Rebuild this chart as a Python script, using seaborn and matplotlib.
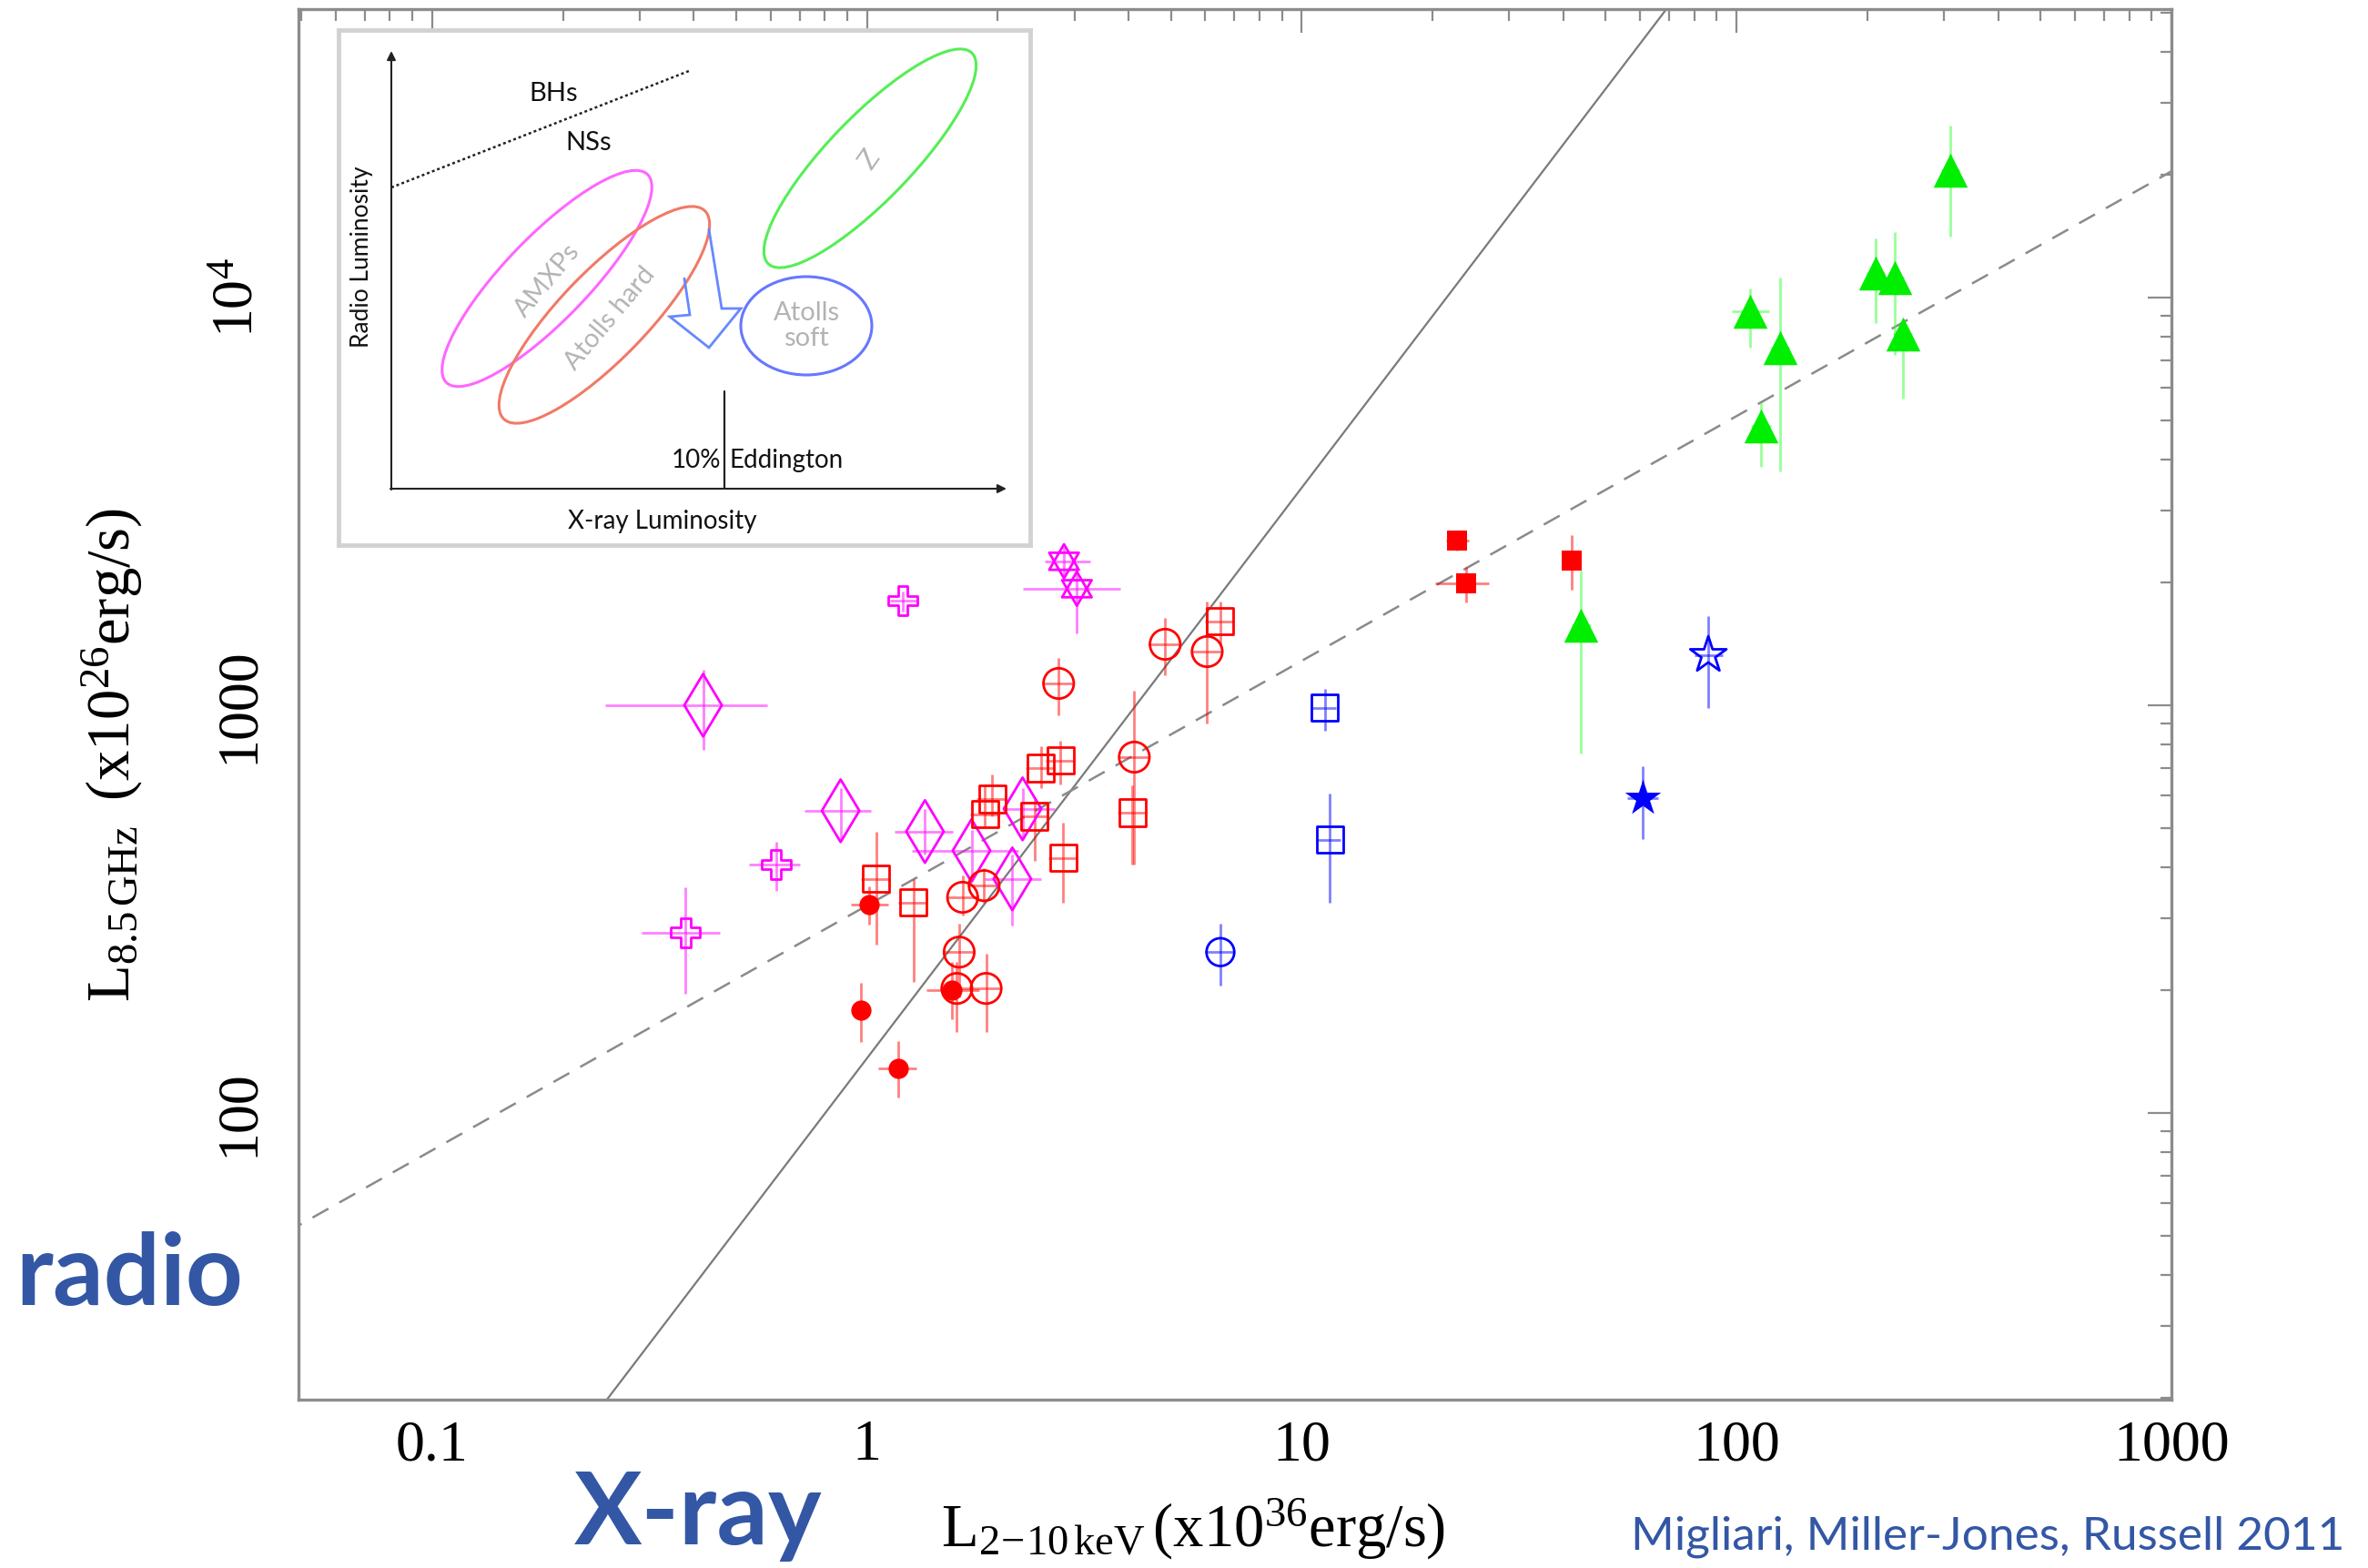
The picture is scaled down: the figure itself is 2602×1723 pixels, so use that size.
import numpy as np
import pandas as pd
import matplotlib
matplotlib.use("Agg")
import matplotlib.pyplot as plt
from matplotlib.path import Path
from matplotlib.patches import Ellipse
from matplotlib.ticker import LogLocator, FixedLocator, FixedFormatter, NullFormatter
import seaborn as sns

# ---------------------------------------------------------------------------
# Data: 2-10 keV X-ray luminosity (1e36 erg/s) and 8.5 GHz radio luminosity
# (1e26 erg/s), with lower/upper error bounds.
# ---------------------------------------------------------------------------

# AMXPs (magenta) - thin diamonds
amxp_dia_x = [0.42, 0.87, 1.36, 1.74, 2.28, 2.16]
amxp_dia_xlo = [0.25, 0.72, 1.16, 1.27, 2.07, 1.87]
amxp_dia_xhi = [0.59, 1.02, 1.58, 2.23, 2.71, 2.51]
amxp_dia_y = [1000, 551, 490, 440, 557, 375]
amxp_dia_ylo = [777, 465, 431, 382, 474, 288]
amxp_dia_yhi = [1222, 627, 556, 495, 627, 431]

# AMXPs (magenta) - crosses
amxp_crs_x = [1.21, 0.618, 0.383]
amxp_crs_xlo = [1.13, 0.535, 0.304]
amxp_crs_xhi = [1.30, 0.70, 0.46]
amxp_crs_y = [1807, 407, 277]
amxp_crs_ylo = [1700, 350, 196]
amxp_crs_yhi = [1900, 462, 358]

# AMXPs (magenta) - hexagrams
amxp_hex_x = [2.84, 3.04]
amxp_hex_xlo = [2.57, 2.28]
amxp_hex_xhi = [3.27, 3.83]
amxp_hex_y = [2255, 1931]
amxp_hex_ylo = [2050, 1500]
amxp_hex_yhi = [2450, 2200]

# Atolls hard state (red) - open circles
atoll_circ_x = [2.76, 4.85, 6.06, 4.12, 1.86, 1.66, 1.63, 1.61, 1.88]
atoll_circ_xlo = [2.55, 4.45, 5.60, 3.80, 1.72, 1.53, 1.50, 1.48, 1.73]
atoll_circ_xhi = [2.98, 5.25, 6.55, 4.45, 2.00, 1.79, 1.76, 1.74, 2.03]
atoll_circ_y = [1131, 1411, 1354, 746, 361, 338, 248, 202, 202]
atoll_circ_ylo = [945, 1185, 903, 407, 328, 305, 192, 158, 158]
atoll_circ_yhi = [1306, 1638, 1797, 1086, 398, 383, 291, 235, 246]

# Atolls hard state (red) - open squares
atoll_sq_x = [6.49, 2.79, 2.51, 1.94, 1.87, 2.43, 4.08, 2.83, 1.05, 1.28]
atoll_sq_xlo = [6.00, 2.58, 2.32, 1.79, 1.73, 2.25, 3.77, 2.62, 0.97, 1.18]
atoll_sq_xhi = [7.00, 3.00, 2.71, 2.09, 2.02, 2.62, 4.40, 3.05, 1.13, 1.38]
atoll_sq_y = [1605, 731, 701, 589, 540, 534, 545, 422, 375, 328]
atoll_sq_ylo = [1400, 640, 626, 534, 505, 415, 407, 328, 259, 210]
atoll_sq_yhi = [1800, 818, 794, 677, 640, 589, 636, 516, 490, 375]

# Atolls hard state (red) - filled circles
atoll_dot_x = [1.01, 0.97, 1.57, 1.18]
atoll_dot_xlo = [0.92, 0.93, 1.37, 1.06]
atoll_dot_xhi = [1.12, 1.01, 1.81, 1.30]
atoll_dot_y = [324, 179, 200, 128.5]
atoll_dot_ylo = [290, 149, 170, 109]
atoll_dot_yhi = [360, 209, 235, 150]

# Atolls (red) - filled squares
atoll_fsq_x = [22.8, 23.9, 41.8]
atoll_fsq_xlo = [21.5, 20.3, 40.5]
atoll_fsq_xhi = [24.2, 27.0, 43.1]
atoll_fsq_y = [2535, 1991, 2265]
atoll_fsq_ylo = [2400, 1786, 1920]
atoll_fsq_yhi = [2650, 2184, 2615]

# Atolls soft state (blue)
soft_circ_x, soft_circ_xlo, soft_circ_xhi = [6.5], [6.0], [7.0]
soft_circ_y, soft_circ_ylo, soft_circ_yhi = [248], [205], [291]
soft_sq_x = [11.3, 11.6]
soft_sq_xlo = [10.6, 10.9]
soft_sq_xhi = [12.0, 12.3]
soft_sq_y = [985, 468]
soft_sq_ylo = [866, 328]
soft_sq_yhi = [1097, 607]
soft_star_x, soft_star_xlo, soft_star_xhi = [86.1], [80.0], [93.0]
soft_star_y, soft_star_ylo, soft_star_yhi = [1327], [985], [1654]
soft_fstar_x, soft_fstar_xlo, soft_fstar_xhi = [60.9], [56.0], [66.0]
soft_fstar_y, soft_fstar_ylo, soft_fstar_yhi = [592], [470], [709]

# Z sources (green) - filled triangles
z_x = [43.9, 310, 209, 231, 241, 107.5, 126, 114]
z_xlo = [41.7, 295, 199, 220, 229, 97.4, 120, 108]
z_xhi = [46.1, 325, 219, 242, 253, 118.8, 132, 120]
z_y = [1571, 20540, 11480, 11190, 8140, 9270, 7540, 4840]
z_ylo = [762, 14100, 8660, 7230, 5650, 7540, 3750, 3850]
z_yhi = [2141, 26400, 13970, 14480, 8890, 10510, 11200, 5530]

# Correlation lines (end points, straight in log-log space)
atoll_fit_x = [0.2, 100.0]
atoll_fit_y = [14.3, 85800.0]      # L_R ~ L_X^1.4
bh_fit_x = [0.04, 1000.0]
bh_fit_y = [46.7, 20400.0]         # L_R ~ L_X^0.6

# Axis ticks
xtick_vals = [0.1, 1, 10, 100, 1000]
xtick_labels = ["0.1", "1", "10", "100", "1000"]
ytick_vals = [100, 1000, 10000]
ytick_labels = ["100", "1000", r"$\mathregular{10^4}$"]

# ---------------------------------------------------------------------------
W, H = 2602, 1723
sns.set_theme(style="white")
plt.rcParams["font.family"] = ["Liberation Serif", "DejaVu Serif"]
plt.rcParams["mathtext.fontset"] = "custom"
plt.rcParams["mathtext.rm"] = "Liberation Serif"
plt.rcParams["mathtext.it"] = "Liberation Serif:italic"
plt.rcParams["mathtext.bf"] = "Liberation Serif:bold"

fig = plt.figure(figsize=(W / 100, H / 100), dpi=100)
fig.patch.set_facecolor("white")

ax = fig.add_axes([328 / W, 1 - 1538 / H, (2386 - 328) / W, (1538 - 10) / H])
ax.set_xscale("log")
ax.set_yscale("log")
ax.set_xlim(0.0493, 1000)
ax.set_ylim(19.8, 51000)

MAGENTA = "#ff00ff"
RED = "#ff0000"
BLUE = "#0000ff"
GREEN = "#00ee00"

# hexagram marker: two overlapping equilateral triangles
_up = [(np.cos(np.radians(a)), np.sin(np.radians(a))) for a in (90, 210, 330)]
_dn = [(np.cos(np.radians(a)), np.sin(np.radians(a))) for a in (270, 30, 150)]
HEXAGRAM = Path(_up + [_up[0]] + _dn + [_dn[0]],
                [Path.MOVETO, Path.LINETO, Path.LINETO, Path.CLOSEPOLY] * 2)


def draw_group(x, xlo, xhi, y, ylo, yhi, color, marker, ms, filled,
               ecolor=None):
    x = np.asarray(x, float)
    y = np.asarray(y, float)
    xerr = [x - np.asarray(xlo, float), np.asarray(xhi, float) - x]
    yerr = [y - np.asarray(ylo, float), np.asarray(yhi, float) - y]
    ax.errorbar(x, y, xerr=xerr, yerr=yerr, fmt="none",
                ecolor=ecolor or color, alpha=0.5, elinewidth=2.0,
                capsize=0, zorder=2)
    df = pd.DataFrame({"x": x, "y": y})
    sns.scatterplot(data=df, x="x", y="y", ax=ax, marker=marker, s=ms ** 2,
                    color=color, facecolor=color if filled else "none",
                    edgecolor=color, linewidth=0 if filled else 2.0,
                    zorder=3, legend=False)


# correlation lines
sns.lineplot(x=atoll_fit_x, y=atoll_fit_y, ax=ax, color="#7a7a7a", lw=1.6,
             zorder=1)
sns.lineplot(x=bh_fit_x, y=bh_fit_y, ax=ax, color="#8a8a8a", lw=1.8,
             zorder=1)
ax.lines[-1].set_dashes((8, 5.5))

draw_group(amxp_dia_x, amxp_dia_xlo, amxp_dia_xhi, amxp_dia_y, amxp_dia_ylo,
           amxp_dia_yhi, MAGENTA, "d", 35, False)
draw_group(amxp_crs_x, amxp_crs_xlo, amxp_crs_xhi, amxp_crs_y, amxp_crs_ylo,
           amxp_crs_yhi, MAGENTA, "P", 23, False)
draw_group(amxp_hex_x, amxp_hex_xlo, amxp_hex_xhi, amxp_hex_y, amxp_hex_ylo,
           amxp_hex_yhi, MAGENTA, HEXAGRAM, 27, False)
draw_group(atoll_circ_x, atoll_circ_xlo, atoll_circ_xhi, atoll_circ_y,
           atoll_circ_ylo, atoll_circ_yhi, RED, "o", 24, False)
draw_group(atoll_sq_x, atoll_sq_xlo, atoll_sq_xhi, atoll_sq_y, atoll_sq_ylo,
           atoll_sq_yhi, RED, "s", 21, False)
draw_group(atoll_dot_x, atoll_dot_xlo, atoll_dot_xhi, atoll_dot_y,
           atoll_dot_ylo, atoll_dot_yhi, RED, "o", 16, True)
draw_group(atoll_fsq_x, atoll_fsq_xlo, atoll_fsq_xhi, atoll_fsq_y,
           atoll_fsq_ylo, atoll_fsq_yhi, RED, "s", 16, True)
draw_group(soft_circ_x, soft_circ_xlo, soft_circ_xhi, soft_circ_y,
           soft_circ_ylo, soft_circ_yhi, BLUE, "o", 22, False)
draw_group(soft_sq_x, soft_sq_xlo, soft_sq_xhi, soft_sq_y, soft_sq_ylo,
           soft_sq_yhi, BLUE, "s", 21, False)
draw_group(soft_star_x, soft_star_xlo, soft_star_xhi, soft_star_y,
           soft_star_ylo, soft_star_yhi, BLUE, "*", 30, False)
draw_group(soft_fstar_x, soft_fstar_xlo, soft_fstar_xhi, soft_fstar_y,
           soft_fstar_ylo, soft_fstar_yhi, BLUE, "*", 30, True)
draw_group(z_x, z_xlo, z_xhi, z_y, z_ylo, z_yhi, GREEN, "^", 27, True,
           ecolor="#33ff33")

# axes frame and ticks
ax.set_xlim(0.0493, 1000)
ax.set_ylim(19.8, 51000)
for sp in ax.spines.values():
    sp.set_color("#8c8c8c")
    sp.set_linewidth(2.4)
for axis, vals, labs in ((ax.xaxis, xtick_vals, xtick_labels),
                         (ax.yaxis, ytick_vals, ytick_labels)):
    axis.set_major_locator(FixedLocator(vals))
    axis.set_major_formatter(FixedFormatter(labs))
    axis.set_minor_locator(LogLocator(base=10, subs=np.arange(2, 10) * 1.0,
                                      numticks=60))
    axis.set_minor_formatter(NullFormatter())
ax.tick_params(which="both", direction="in", top=True, right=True,
               color="#8c8c8c", width=1.6, labelsize=46, labelcolor="black")
ax.tick_params(which="major", length=19)
ax.tick_params(which="minor", length=9)
ax.tick_params(axis="x", pad=16)
ax.tick_params(axis="y", pad=26, labelrotation=90)
for lab in ax.get_yticklabels():
    lab.set_verticalalignment("center")

ax.set_xlabel(r"$\mathregular{L_{2\!-\!10\,keV}\,(x10^{36}erg/s)}$",
              fontsize=48, color="black")
ax.xaxis.set_label_coords(0.4777, -0.070)
ax.set_ylabel(r"$\mathregular{L_{8.5\,GHz}\;\;(x10^{26}erg/s)}$",
              fontsize=48, color="black")
ax.yaxis.set_label_coords(-0.082, 0.464)

# ---------------------------------------------------------------------------
# schematic inset (drawn in its own pixel-like coordinate frame)
ins = fig.add_axes([372 / W, 1 - 599 / H, 760 / W, 566 / H], zorder=5)
ins.set_xlim(372, 1132)
ins.set_ylim(599, 33)
ins.set_xticks([])
ins.set_yticks([])
ins.set_facecolor("white")
for sp in ins.spines.values():
    sp.set_color("#d2d2d2")
    sp.set_linewidth(3.5)

SANS = ["Lato", "DejaVu Sans"]
ins.annotate("", xy=(430, 56), xytext=(430, 538),
             arrowprops=dict(arrowstyle="-|>", color="#222222", lw=1.5,
                             mutation_scale=14, shrinkA=0, shrinkB=0))
ins.annotate("", xy=(1106, 537), xytext=(429, 537),
             arrowprops=dict(arrowstyle="-|>", color="#222222", lw=1.5,
                             mutation_scale=14, shrinkA=0, shrinkB=0))
ins.plot([430, 757], [206, 78], color="#222222", lw=1.8, ls=(0, (1.2, 1.2)))
ins.plot([796, 796], [430, 537], color="#222222", lw=1.6)
ins.text(792, 506, "10%", ha="right", va="center", fontsize=20,
         family=SANS, color="#111111")
ins.text(801, 506, "Eddington", ha="left", va="center", fontsize=20,
         family=SANS, color="#111111")
ins.text(608, 103, "BHs", ha="center", va="center", fontsize=21,
         family=SANS, color="#111111")
ins.text(647, 157, "NSs", ha="center", va="center", fontsize=21,
         family=SANS, color="#111111")
ins.text(397, 282, "Radio Luminosity", ha="center", va="center",
         fontsize=19, rotation=90, family=SANS, color="#111111")
ins.text(728, 573, "X-ray Luminosity", ha="center", va="center",
         fontsize=20, family=SANS, color="#111111")

ins.add_patch(Ellipse((601, 306), 318, 92, angle=-46, fill=False,
                      ec="#ff66ff", lw=2.2))
ins.add_patch(Ellipse((664, 346), 318, 96, angle=-46, fill=False,
                      ec="#f07a66", lw=2.2))
ins.add_patch(Ellipse((956, 174), 322, 92, angle=-46, fill=False,
                      ec="#55ee55", lw=2.2))
ins.add_patch(Ellipse((886, 358), 144, 108, angle=0, fill=False,
                      ec="#6677ff", lw=2.2))
arrow_x = [752, 758, 736, 779, 814, 793, 779]
arrow_y = [306, 346, 348, 382, 339, 339, 252]
ins.plot(arrow_x, arrow_y, color="#6688ff", lw=2.0, solid_joinstyle="miter")

GREY_TXT = "#b3b3b3"
ins.text(602, 308, "AMXPs", ha="center", va="center", fontsize=21,
         rotation=50, family=SANS, color=GREY_TXT)
ins.text(670, 350, "Atolls hard", ha="center", va="center", fontsize=21,
         rotation=50, family=SANS, color=GREY_TXT)
ins.text(955, 175, "Z", ha="center", va="center", fontsize=22,
         rotation=55, family=SANS, color=GREY_TXT)
ins.text(886, 358, "Atolls\nsoft", ha="center", va="center", fontsize=21,
         linespacing=1.05, family=SANS, color=GREY_TXT)

# ---------------------------------------------------------------------------
# annotations around the plot
BLUE_TXT = "#3357a5"
fig.text(17 / W, 1 - 1434 / H, "radio", ha="left", va="baseline",
         fontsize=79, fontweight="bold", family=SANS, color=BLUE_TXT)
fig.text(631 / W, 1 - 1697 / H, "X-ray", ha="left", va="baseline",
         fontsize=80, fontweight="bold", family=SANS, color=BLUE_TXT)
fig.text(1792 / W, 1 - 1703 / H, "Migliari, Miller-Jones, Russell 2011",
         ha="left", va="baseline", fontsize=37, family=SANS, color=BLUE_TXT)

fig.savefig("out.png", dpi=100, facecolor="white")
